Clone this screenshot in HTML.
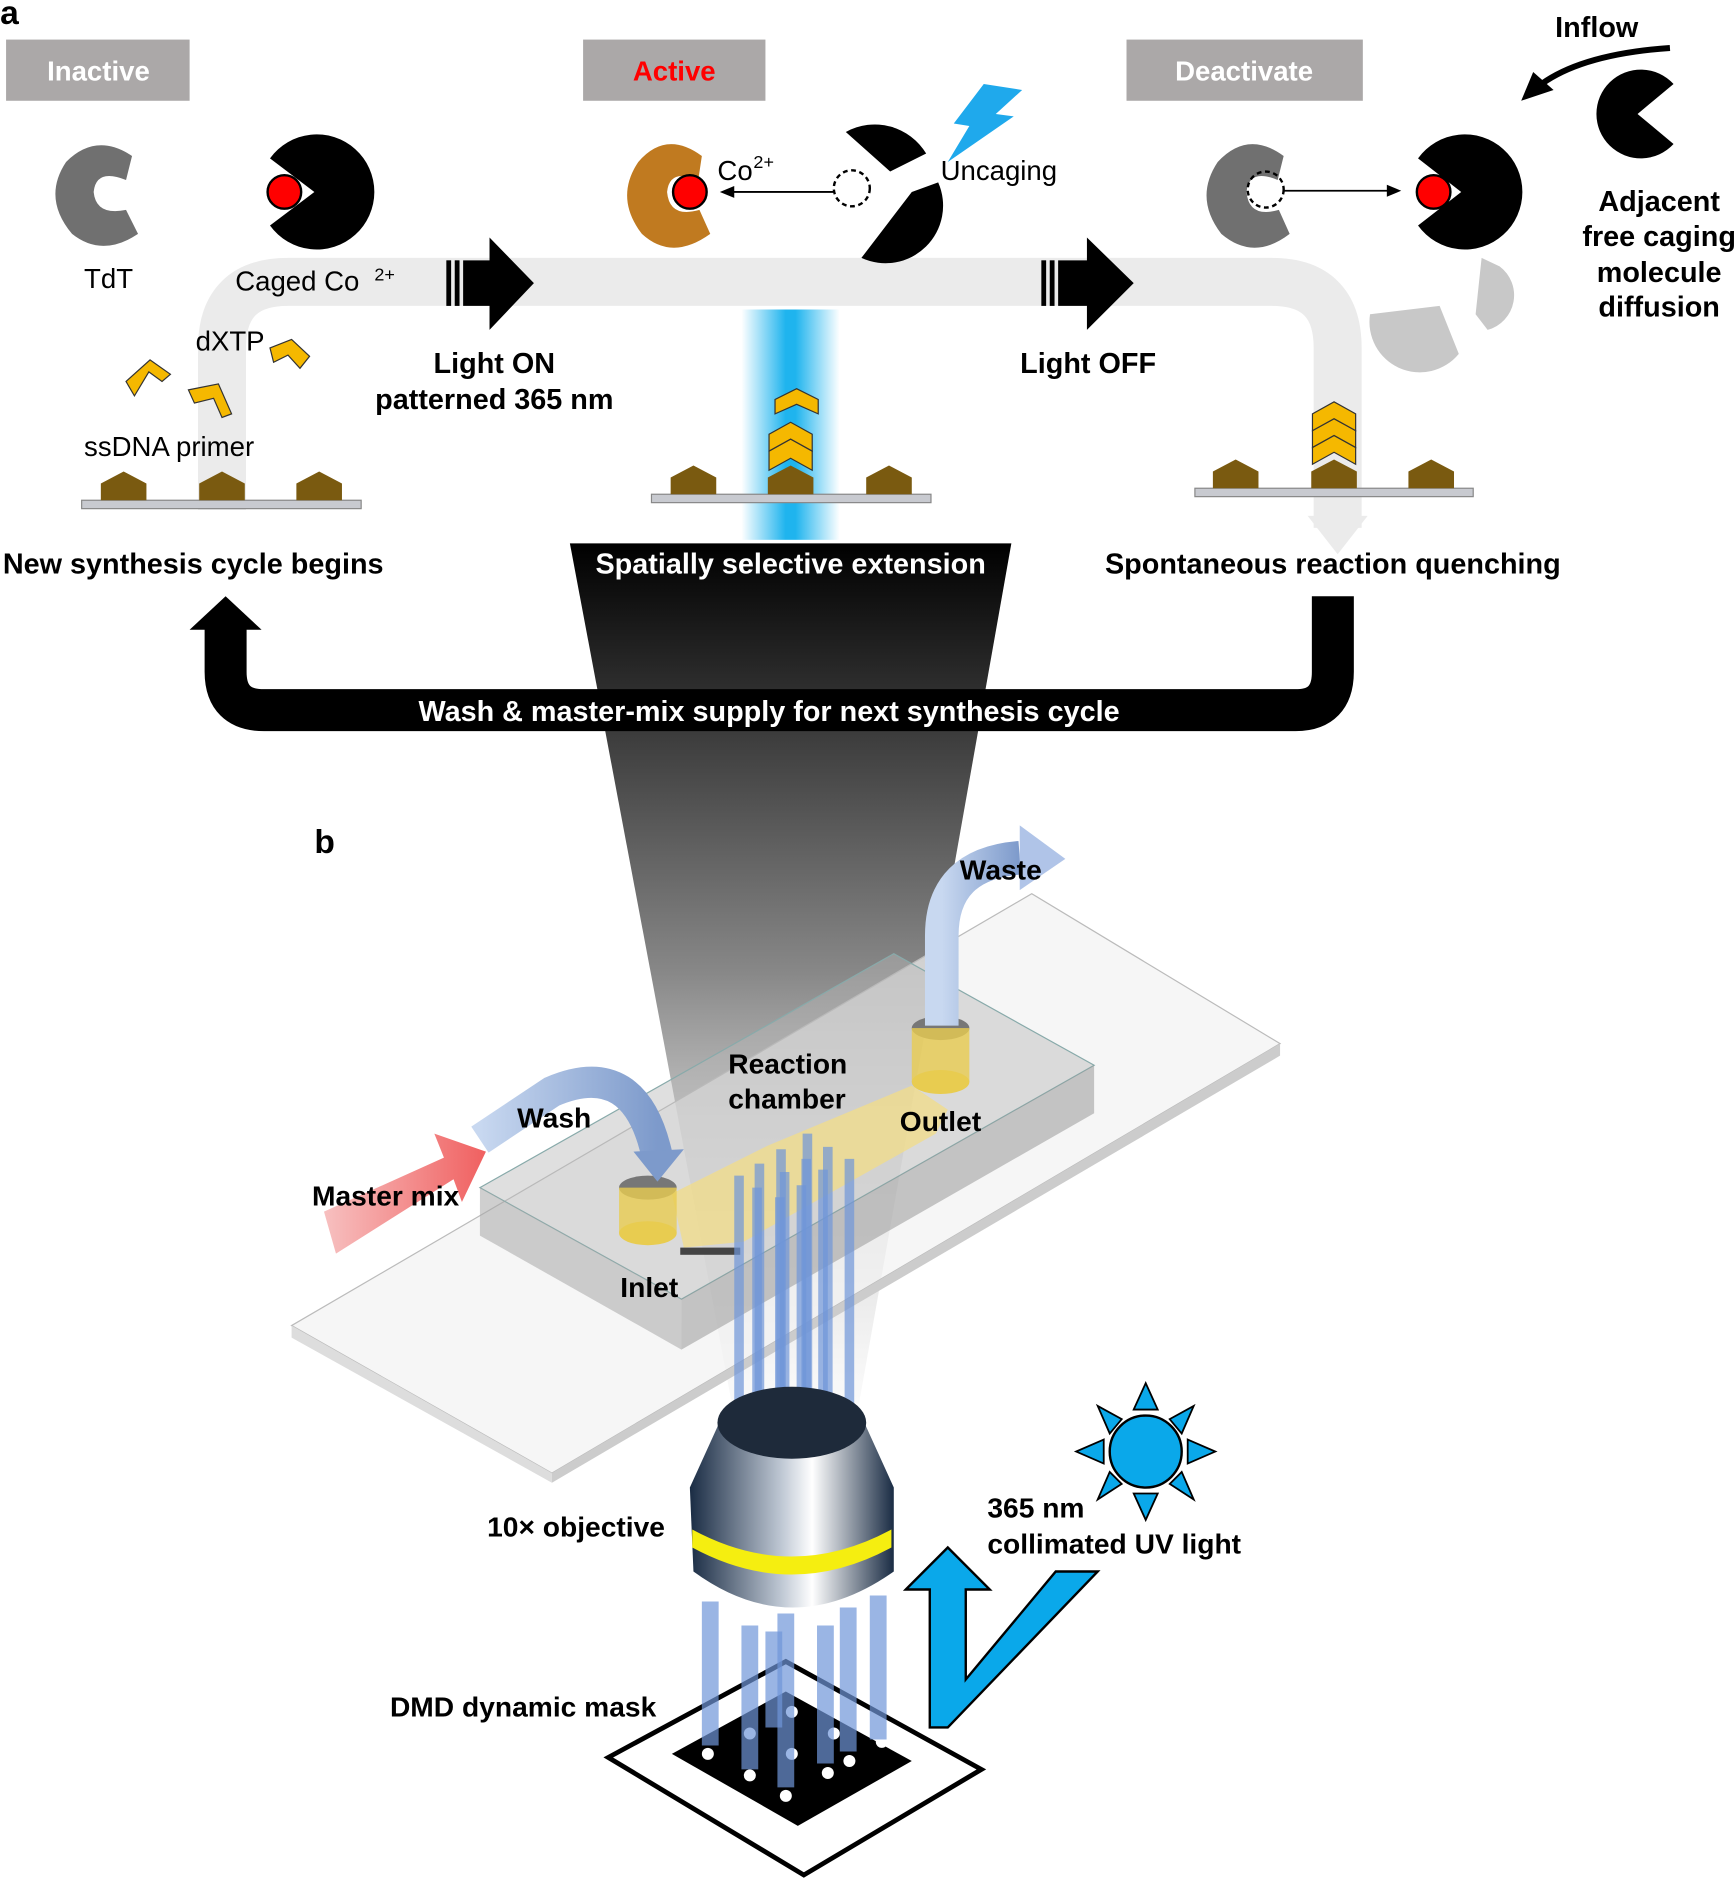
<!DOCTYPE html>
<html><head><meta charset="utf-8"><style>html,body{margin:0;padding:0;background:#fff}svg{display:block}text{font-family:"Liberation Sans",Arial,sans-serif}</style></head><body>
<svg width="1736" height="1881" viewBox="0 0 1447 1568" xmlns="http://www.w3.org/2000/svg">
<defs>
<linearGradient id="beam" x1="0" x2="1"><stop offset="0" stop-color="#fff"/><stop offset=".45" stop-color="#1fb4ee"/><stop offset=".55" stop-color="#1fb4ee"/><stop offset="1" stop-color="#fff"/></linearGradient>
<linearGradient id="cone" x1="0" y1="0" x2="0" y2="1"><stop offset="0" stop-color="#000"/><stop offset=".5" stop-color="#888"/><stop offset="1" stop-color="#eee" stop-opacity=".3"/></linearGradient>
<linearGradient id="obj" x1="0" x2="1"><stop offset="0" stop-color="#1a2c44"/><stop offset=".45" stop-color="#bfc8d4"/><stop offset=".6" stop-color="#fff"/><stop offset="1" stop-color="#1a2c44"/></linearGradient>
<linearGradient id="red" x1="0" x2="1"><stop offset="0" stop-color="#f7c0c0"/><stop offset="1" stop-color="#f06060"/></linearGradient>
<linearGradient id="wsh" x1="0" x2="1"><stop offset="0" stop-color="#c8d8f0"/><stop offset="1" stop-color="#7d9acb"/></linearGradient>
</defs>
<text x="0" y="20" font-size="28" font-weight="bold">a</text>
<path d="M185 425 V290 Q185 235 240 235 H1060 Q1115 235 1115 290 V440" fill="none" stroke="#ebebeb" stroke-width="40"/>
<polygon points="1090,430 1140,430 1115,462" fill="#ebebeb"/>
<rect x="5" y="33" width="153" height="51" fill="#aba8a8"/><text x="82" y="67" font-size="23" font-weight="bold" fill="#fff" text-anchor="middle">Inactive</text>
<rect x="486" y="33" width="152" height="51" fill="#aba8a8"/><text x="562" y="67" font-size="23" font-weight="bold" fill="#f00" text-anchor="middle">Active</text>
<rect x="939" y="33" width="197" height="51" fill="#aba8a8"/><text x="1037" y="67" font-size="23" font-weight="bold" fill="#fff" text-anchor="middle">Deactivate</text>
<g fill="#000"><rect x="372" y="217" width="4" height="38"/><rect x="379" y="217" width="4" height="38"/><polygon points="386,217 408,217 408,198 445,236 408,275 408,255 386,255"/>
<rect x="868" y="217" width="4" height="38"/><rect x="875" y="217" width="4" height="38"/><polygon points="882,217 906,217 906,198 945,236 906,275 906,255 882,255"/></g>
<path d="M110 130 Q80 110 55 135 Q35 165 60 195 Q85 215 115 195 L105 175 Q80 180 78 160 Q80 140 105 150 Z" fill="#707070"/>
<path d="M585 130 Q555 108 532 135 Q512 165 535 195 Q560 218 592 195 L583 175 Q558 182 556 160 Q558 140 582 150 Z" fill="#c07a20"/>
<path d="M1070 130 Q1040 108 1015 135 Q995 165 1018 195 Q1045 218 1075 195 L1066 175 Q1041 182 1039 160 Q1041 140 1065 150 Z" fill="#707070"/>
<path d="M262 160 L225 132 A48 48 0 1 1 225 188 Z" fill="#000"/><circle cx="237" cy="160" r="14" fill="#f00" stroke="#000" stroke-width="2"/>
<path d="M1218 160 L1182 132 A48 48 0 1 1 1182 188 Z" fill="#000"/><circle cx="1195" cy="160" r="14" fill="#f00" stroke="#000" stroke-width="2"/>
<path d="M1365 95 L1395 70 A37 37 0 1 0 1395 120 Z" fill="#000"/>
<path d="M705 110 A50 50 0 0 1 772 128 L742 143 Z M760 160 L782 152 A48 48 0 0 1 718 215 Z" fill="#000"/>
<path d="M1235 215 L1250 222 A30 30 0 0 1 1240 275 L1230 262 Z M1142 262 L1200 255 L1216 295 A42 42 0 0 1 1142 262Z" fill="#c8c8c8"/>
<circle cx="575" cy="160" r="14" fill="#f00" stroke="#000" stroke-width="2"/>
<circle cx="710" cy="157" r="15" fill="none" stroke="#000" stroke-width="2" stroke-dasharray="4,3"/>
<circle cx="1055" cy="158" r="15" fill="none" stroke="#000" stroke-width="2" stroke-dasharray="4,3"/>
<line x1="695" y1="160" x2="610" y2="160" stroke="#000" stroke-width="1.5"/><polygon points="600,160 612,155 612,165"/>
<line x1="1070" y1="159" x2="1158" y2="159" stroke="#000" stroke-width="1.5"/><polygon points="1168,159 1156,154 1156,164"/>
<polygon points="820,70 852,75 830,95 845,97 790,135 808,105 795,103" fill="#1fa9ec"/>
<path d="M1392 40 Q1320 45 1285 70" fill="none" stroke="#000" stroke-width="5"/><polygon points="1268,84 1278,60 1295,75"/>
<g font-size="23"><text x="70" y="240">TdT</text><text x="196" y="242">Caged  Co</text><text x="312" y="234" font-size="15">2+</text>
<text x="163" y="292">dXTP</text><text x="70" y="380">ssDNA primer</text>
<text x="598" y="150">Co</text><text x="628" y="140" font-size="15">2+</text><text x="784" y="150">Uncaging</text></g>
<g font-size="24" font-weight="bold" text-anchor="middle"><text x="412" y="311">Light ON</text><text x="412" y="341">patterned 365 nm</text><text x="907" y="311">Light OFF</text>
<text x="1331" y="31">Inflow</text><text x="1383" y="176">Adjacent</text><text x="1383" y="205">free caging</text><text x="1383" y="235">molecule</text><text x="1383" y="264">diffusion</text>
<text x="161" y="478">New synthesis cycle begins</text><text x="1111" y="478">Spontaneous reaction quenching</text></g>
<g fill="#f5b800" stroke="#333" stroke-width="1"><polygon points="105,318 125,300 142,312 135,318 124,310 112,330"/><polygon points="157,325 182,320 193,345 185,348 178,332 162,336"/><polygon points="225,290 243,283 258,297 250,307 240,296 228,302"/></g>
<rect x="618" y="258" width="82" height="192" fill="url(#beam)"/>
<rect x="68" y="417" width="233" height="7" fill="#c8cad0" stroke="#888"/>
<rect x="543" y="412" width="233" height="7" fill="#c8cad0" stroke="#888"/>
<rect x="996" y="407" width="232" height="7" fill="#c8cad0" stroke="#888"/>
<g fill="#7a5a10"><polygon points="84,417 84,403 103,393 122,403 122,417"/><polygon points="166,417 166,403 185,393 204,403 204,417"/><polygon points="247,417 247,403 266,393 285,403 285,417"/>
<polygon points="559,412 559,398 578,388 597,398 597,412"/><polygon points="640,412 640,398 659,388 678,398 678,412"/><polygon points="722,412 722,398 741,388 760,398 760,412"/>
<polygon points="1011,407 1011,393 1030,383 1049,393 1049,407"/><polygon points="1093,407 1093,393 1112,383 1131,393 1131,407"/><polygon points="1174,407 1174,393 1193,383 1212,393 1212,407"/></g>
<g fill="#f5b800" stroke="#333" stroke-width="1"><polygon points="641,392 641,376 659,366 677,376 677,392 659,382"/><polygon points="641,376 641,362 659,352 677,362 677,376 659,366"/><polygon points="646,345 646,333 664,324 682,333 682,345 664,337"/>
<polygon points="1094,387 1094,373 1112,363 1130,373 1130,387 1112,377"/><polygon points="1094,373 1094,359 1112,349 1130,359 1130,373 1112,363"/><polygon points="1094,359 1094,345 1112,335 1130,345 1130,359 1112,349"/></g>
<polygon points="475,453 843,453 716,1170 610,1170" fill="url(#cone)"/>
<text x="659" y="478" font-size="24" font-weight="bold" fill="#fff" text-anchor="middle">Spatially selective extension</text>
<path d="M1111 497 V560 Q1111 592 1080 592 H220 Q188 592 188 560 V520" fill="none" stroke="#000" stroke-width="35"/>
<polygon points="158,525 218,525 188,497"/>
<text x="641" y="601" font-size="24" font-weight="bold" fill="#fff" text-anchor="middle">Wash &amp; master-mix supply for next synthesis cycle</text>
<text x="262" y="711" font-size="28" font-weight="bold">b</text>
<polygon points="243,1105 860,745 1067,870 460,1228" fill="#f2f2f2" fill-opacity=".7" stroke="#bbb"/>
<polygon points="243,1105 460,1228 460,1236 243,1115" fill="#ddd"/>
<polygon points="460,1228 1067,870 1067,880 460,1236" fill="#ccc"/>
<polygon points="400,990 745,795 912,888 568,1083" fill="#b8b8b8" fill-opacity=".45" stroke="#8aa" stroke-width="1"/>
<polygon points="400,990 568,1083 568,1125 400,1030" fill="#a8a8a8" fill-opacity=".55"/>
<polygon points="568,1083 912,888 912,928 568,1125" fill="#999" fill-opacity=".55"/>
<polygon points="560,995 640,955 760,905 790,925 780,945 620,1035 570,1040" fill="#f0dc8c" fill-opacity=".8"/>
<rect x="567" y="1040" width="50" height="6" fill="#444"/>
<ellipse cx="540" cy="990" rx="24" ry="10" fill="#777"/><rect x="516" y="990" width="48" height="38" fill="#e8cc50" fill-opacity=".8"/><ellipse cx="540" cy="1028" rx="24" ry="10" fill="#e8cc50"/>
<ellipse cx="784" cy="857" rx="24" ry="10" fill="#777"/><rect x="760" y="857" width="48" height="45" fill="#e8cc50" fill-opacity=".8"/><ellipse cx="784" cy="902" rx="24" ry="10" fill="#e8cc50"/>
<polygon points="270,1010 370,965 362,945 405,960 385,1002 378,983 280,1045" fill="url(#red)"/>
<path d="M400 950 L460 910 Q530 880 548 965" fill="none" stroke="url(#wsh)" stroke-width="26"/><polygon points="528,960 570,958 548,985" fill="#7d9acb"/>
<path d="M785 855 V780 Q785 720 850 715" fill="none" stroke="url(#wsh)" stroke-width="28"/><polygon points="850,688 888,716 850,742" fill="#b0c4e8"/>
<g stroke="#6f95d8" stroke-width="8" stroke-opacity=".7">
<line x1="616" y1="980" x2="616" y2="1195"/><line x1="633" y1="970" x2="633" y2="1210"/><line x1="651" y1="958" x2="651" y2="1220"/><line x1="673" y1="945" x2="673" y2="1210"/><line x1="690" y1="956" x2="690" y2="1200"/><line x1="708" y1="966" x2="708" y2="1195"/><line x1="631" y1="990" x2="631" y2="1230"/><line x1="650" y1="998" x2="650" y2="1240"/><line x1="668" y1="988" x2="668" y2="1235"/><line x1="686" y1="975" x2="686" y2="1225"/><line x1="654" y1="977" x2="654" y2="1220"/><line x1="672" y1="966" x2="672" y2="1215"/></g>
<path d="M575 1240 L600 1185 Q660 1140 720 1185 L745 1240 V1310 Q660 1370 578 1310 Z" fill="url(#obj)"/>
<ellipse cx="660" cy="1186" rx="62" ry="30" fill="#1e2a3a"/>
<path d="M577 1275 Q660 1320 743 1275 V1290 Q660 1335 577 1290Z" fill="#f5ee10"/>
<polygon points="507,1465 655,1385 818,1475 670,1563" fill="#fff" stroke="#000" stroke-width="4"/>
<polygon points="560,1462 655,1410 760,1468 665,1522" fill="#000"/>
<g fill="#fff"><circle cx="590" cy="1462" r="5"/><circle cx="625" cy="1480" r="5"/><circle cx="655" cy="1497" r="5"/><circle cx="625" cy="1445" r="5"/><circle cx="660" cy="1462" r="5"/><circle cx="690" cy="1478" r="5"/><circle cx="660" cy="1427" r="5"/><circle cx="695" cy="1445" r="5"/><circle cx="735" cy="1452" r="5"/><circle cx="708" cy="1468" r="5"/></g>
<g stroke="#6f95d8" stroke-width="14" stroke-opacity=".7"><line x1="592" y1="1335" x2="592" y2="1455"/><line x1="625" y1="1355" x2="625" y2="1475"/><line x1="655" y1="1345" x2="655" y2="1490"/><line x1="688" y1="1355" x2="688" y2="1470"/><line x1="707" y1="1340" x2="707" y2="1460"/><line x1="732" y1="1330" x2="732" y2="1450"/><line x1="645" y1="1360" x2="645" y2="1440"/></g>
<polygon points="755,1325 790,1290 825,1325 805,1325 805,1400 880,1310 915,1310 790,1440 775,1440 775,1325" fill="#0aa8ea" stroke="#000" stroke-width="2"/>
<circle cx="955" cy="1210" r="30" fill="#0aa8ea" stroke="#000" stroke-width="2"/>
<g fill="#0aa8ea" stroke="#000" stroke-width="1.5"><polygon points="945,1175 955,1153 965,1175"/><polygon points="945,1245 955,1267 965,1245"/><polygon points="920,1200 897,1210 920,1220"/><polygon points="990,1200 1013,1210 990,1220"/><polygon points="975,1183 995,1172 985,1195"/><polygon points="925,1195 915,1172 935,1183"/><polygon points="975,1237 995,1250 985,1227"/><polygon points="935,1237 915,1250 925,1227"/></g>
<g font-size="23.5" font-weight="bold"><text x="260" y="1005">Master mix</text><text x="431" y="940">Wash</text><text x="607" y="895">Reaction</text><text x="607" y="924">chamber</text><text x="750" y="943">Outlet</text><text x="800" y="733">Waste</text><text x="517" y="1081">Inlet</text><text x="406" y="1281">10× objective</text><text x="823" y="1265">365 nm</text><text x="823" y="1295">collimated UV light</text><text x="325" y="1431">DMD dynamic mask</text></g>
</svg>
</body></html>
